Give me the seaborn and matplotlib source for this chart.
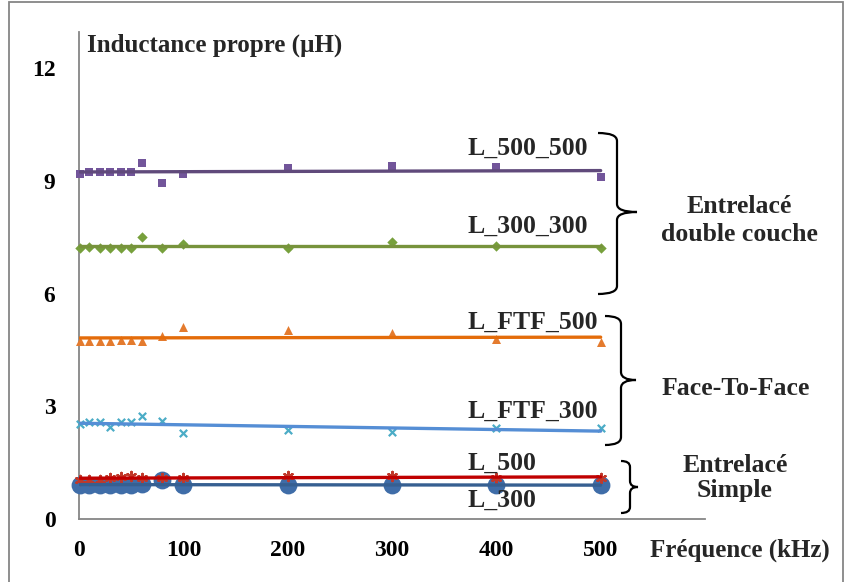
import numpy as np
import pandas as pd
import seaborn as sns
import matplotlib
matplotlib.use("Agg")
import matplotlib.pyplot as plt
from matplotlib.path import Path
from matplotlib.patches import PathPatch, Rectangle

# ---------------- data ----------------
freq_khz = [1, 10, 20, 30, 40, 50, 60, 80, 100, 200, 300, 400, 500]
L_500_500 = [9.18, 9.24, 9.24, 9.24, 9.24, 9.24, 9.48, 8.95, 9.18, 9.33, 9.40, 9.37, 9.10]
L_300_300 = [7.22, 7.25, 7.22, 7.22, 7.22, 7.22, 7.51, 7.22, 7.33, 7.20, 7.38, 7.27, 7.20]
L_FTF_500 = [4.75, 4.75, 4.75, 4.75, 4.77, 4.77, 4.75, 4.86, 5.12, 5.02, 4.94, 4.78, 4.70]
L_FTF_300 = [2.52, 2.58, 2.58, 2.44, 2.57, 2.57, 2.73, 2.60, 2.28, 2.36, 2.31, 2.42, 2.42]
L_500 = [1.05, 1.05, 1.05, 1.09, 1.12, 1.14, 1.09, 1.09, 1.09, 1.14, 1.14, 1.09, 1.10]
L_300 = [0.90, 0.90, 0.90, 0.90, 0.90, 0.90, 0.92, 1.03, 0.90, 0.90, 0.90, 0.90, 0.90]

series_names = ["L_300", "L_500", "L_FTF_300", "L_FTF_500", "L_300_300", "L_500_500"]
series_values = [L_300, L_500, L_FTF_300, L_FTF_500, L_300_300, L_500_500]
x_ticks = [0, 100, 200, 300, 400, 500]
y_ticks = [0, 3, 6, 9, 12]
y_title = "Inductance propre (µH)"
x_title = "Fréquence (kHz)"
group_labels = [["Entrelacé", "double couche"], ["Face-To-Face"], ["Entrelacé", "Simple"]]

# ---------------- styles ----------------
styles = {
    "L_300":     dict(marker="o", mcol="#3F6DA8", lcol="#365F91", s=165, lw=0),
    "L_500":     dict(marker=(6, 2, 0), mcol="#C0392B", lcol="#C00000", s=45, lw=1.6),
    "L_FTF_300": dict(marker="x", mcol="#4BACC6", lcol="#558ED5", s=28, lw=1.6),
    "L_FTF_500": dict(marker="^", mcol="#E47B2E", lcol="#E46C0A", s=42, lw=0),
    "L_300_300": dict(marker="D", mcol="#77A03C", lcol="#77933C", s=28, lw=0),
    "L_500_500": dict(marker="s", mcol="#72559A", lcol="#604A7B", s=40, lw=0),
}

W, H = 845, 582
sns.set_theme(style="white")
plt.rcParams["font.family"] = ["Liberation Serif", "DejaVu Serif"]
plt.rcParams["font.weight"] = "bold"

fig = plt.figure(figsize=(W / 100, H / 100), dpi=100)
fig.patch.set_facecolor("white")


def fx(px):
    return px / W


def fy(py):
    return 1 - py / H


ax = fig.add_axes([fx(79), fy(519), fx(705) - fx(79), fy(32) - fy(519)])
ax.set_facecolor("white")

for name, vals in zip(series_names, series_values):
    st = styles[name]
    df = pd.DataFrame({"f": freq_khz, "L": vals})
    sns.regplot(data=df, x="f", y="L", ax=ax, ci=None, marker=st["marker"],
                scatter_kws=dict(s=st["s"], color=st["mcol"], linewidths=st["lw"], alpha=1,
                                 zorder=3, clip_on=False),
                line_kws=dict(color=st["lcol"], lw=2.4, zorder=4))

ax.set_xlim(0, 600)
ax.set_ylim(0, 12.96)
ax.set_xticks(x_ticks)
ax.set_yticks(y_ticks)
ax.set_xlabel("")
ax.set_ylabel("")
for s in ["top", "right"]:
    ax.spines[s].set_visible(False)
for s in ["left", "bottom"]:
    ax.spines[s].set_color("#868686")
    ax.spines[s].set_linewidth(1.3)
ax.tick_params(axis="both", which="major", direction="out", length=6, width=1.3,
               color="#868686", labelsize=17, labelcolor="black")
ax.tick_params(axis="y", pad=11)
ax.tick_params(axis="x", pad=9)
for lab in ax.get_xticklabels() + ax.get_yticklabels():
    lab.set_fontweight("bold")

# axis titles
fig.text(fx(87), fy(45), y_title, fontsize=18, fontweight="bold", ha="left", va="center")
fig.text(fx(650), fy(550), x_title, fontsize=18, fontweight="bold", ha="left", va="center")

# series labels (left aligned, baseline positions)
label_pos = {"L_500_500": 155, "L_300_300": 233, "L_FTF_500": 329,
             "L_FTF_300": 418, "L_500": 470, "L_300": 507}
for name in series_names:
    fig.text(fx(468), fy(label_pos[name]), name, fontsize=18.5, fontweight="bold",
             ha="left", va="baseline")

# group labels
group_baselines = [[213, 241], [395], [472, 497]]
group_cx = [739, 736, 735]
for lines, bls, cx in zip(group_labels, group_baselines, group_cx):
    for t, b in zip(lines, bls):
        fig.text(fx(cx), fy(b), t, fontsize=18.5, fontweight="bold", ha="center", va="baseline")


# braces
def brace(xl, xs, xt, yt, ym, yb, r=8):
    pts = [(xl, yt), (xs, yt), (xs, yt + r),
           (xs, ym - r), (xs, ym), (xt, ym),
           (xs, ym), (xs, ym + r),
           (xs, yb - r), (xs, yb), (xl, yb)]
    codes = [Path.MOVETO, Path.CURVE3, Path.CURVE3,
             Path.LINETO, Path.CURVE3, Path.CURVE3,
             Path.CURVE3, Path.CURVE3,
             Path.LINETO, Path.CURVE3, Path.CURVE3]
    verts = [(fx(x), fy(y)) for x, y in pts]
    fig.patches.append(PathPatch(Path(verts, codes), transform=fig.transFigure,
                                 fill=False, edgecolor="black", lw=1.6, figure=fig))


brace(598, 617, 637, 133, 212, 294)
brace(605, 621, 636, 316, 380, 445)
brace(621, 630, 638, 461, 487, 513, r=6)

# chart border
fig.patches.append(Rectangle((fx(9), fy(600)), fx(843) - fx(9), fy(2) - fy(600),
                             transform=fig.transFigure, fill=False, edgecolor="#868686",
                             lw=1.3, figure=fig))

fig.savefig("out.png", dpi=100, facecolor="white")
